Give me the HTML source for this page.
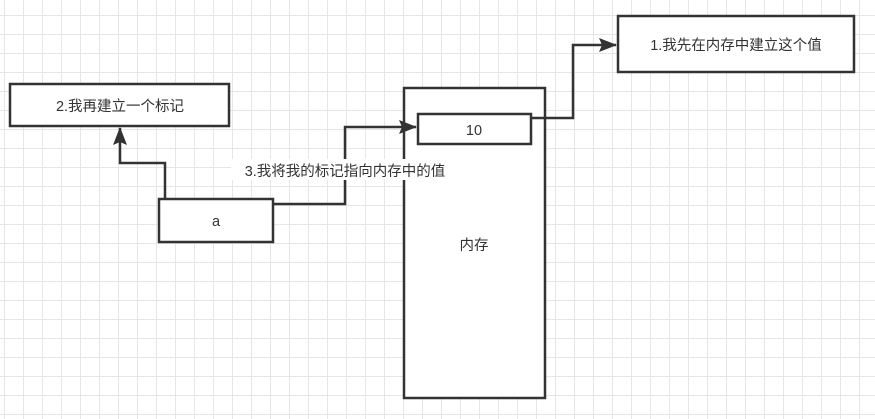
<!DOCTYPE html>
<html><head><meta charset="utf-8"><style>
body{margin:0;width:875px;height:419px;overflow:hidden;background:#fff;
background-image:linear-gradient(#e6e6e6 1px,transparent 1px),linear-gradient(90deg,#e6e6e6 1px,transparent 1px);
background-size:19px 19px;background-position:4px 15px;}
.t{font-family:"Liberation Sans","Noto Sans CJK SC",sans-serif;font-size:14.5px;fill:#333;}
</style></head><body>
<svg width="875" height="419" xmlns="http://www.w3.org/2000/svg" style="position:absolute;left:0;top:0">
<defs>
<marker id="b" markerWidth="18" markerHeight="14" refX="17" refY="7" orient="auto" markerUnits="userSpaceOnUse"><path d="M0,0 L18,7 L0,14 L3,7 Z" fill="#333"/></marker></defs>
<g stroke="#333" stroke-width="2.5" fill="#fff">
<rect x="10" y="84" width="219" height="42"/>
<rect x="618" y="16" width="236" height="56"/>
<rect x="404" y="88" width="141" height="310"/>
<rect x="418" y="114" width="113" height="30"/>
<rect x="159" y="199" width="114" height="43"/>
</g>
<g stroke="#333" stroke-width="2.5" fill="none">
<polyline points="531,118 573,118 573,45 616,45" marker-end="url(#b)"/>
<polyline points="273,204 345,204 345,127 416,127" marker-end="url(#b)"/>
<polyline points="165,199 165,163 120,163 120,128" marker-end="url(#b)"/>
</g>
<rect x="231" y="159" width="229" height="21" fill="#fff"/>
<text class="t" x="345" y="176" text-anchor="middle">3.我将我的标记指向内存中的值</text>
<text class="t" x="120" y="111" text-anchor="middle">2.我再建立一个标记</text>
<text class="t" x="736" y="50" text-anchor="middle">1.我先在内存中建立这个值</text>
<text class="t" x="474" y="135" text-anchor="middle">10</text>
<text class="t" x="216" y="226" text-anchor="middle">a</text>
<text class="t" x="474" y="250" text-anchor="middle">内存</text>
</svg>
</body></html>
